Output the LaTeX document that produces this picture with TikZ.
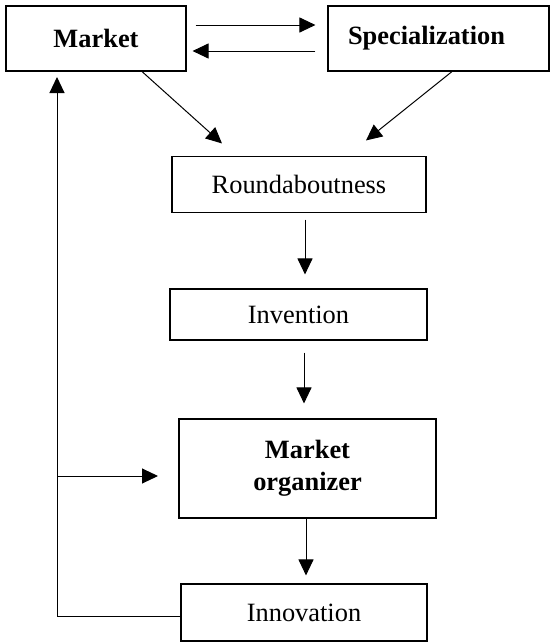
\documentclass[tikz,border=0pt]{standalone}
\usepackage{fontspec}
\setmainfont{Liberation Serif}
\usetikzlibrary{arrows.meta}
\begin{document}
\begin{tikzpicture}[x=1pt,y=-1pt,
  box/.style={draw=black, line width=1.1pt, rectangle, inner sep=0pt, align=center,
    font=\fontsize{26.4}{31.7}\selectfont},
  arr/.style={draw=black, line width=1pt, -{Triangle[length=16pt,width=15pt]}},
  plainline/.style={draw=black, line width=1pt}]
\useasboundingbox (0,0) rectangle (551,643);
\node[box, font=\fontsize{26.4}{31.7}\selectfont\bfseries, minimum width=180pt, minimum height=65pt] (market) at (96,38.5) {Market};
\node[box, font=\fontsize{26.4}{31.7}\selectfont\bfseries, minimum width=221pt, minimum height=65pt] (spec) at (438.5,38.5) {\hspace*{-24pt}Specialization};
\node[box, minimum width=254pt, minimum height=56pt] (round) at (299,184.5) {Roundaboutness};
\node[box, minimum width=257pt, minimum height=51pt] (inv) at (298.5,314.5) {Invention};
\node[box, font=\fontsize{26.4}{31.7}\selectfont\bfseries, minimum width=257pt, minimum height=99pt] (mo) at (307.5,468.5) {\raisebox{6pt}{\begin{tabular}{@{}c@{}}Market\\organizer\end{tabular}}};
\node[box, minimum width=246pt, minimum height=57pt] (innov) at (304,612.5) {Innovation};
\coordinate (fbtop) at (57,77);
\coordinate (fbbr) at (57,476);
\coordinate (fbcorner) at (57,616);
\coordinate (motip) at (158,476);
% top pair of arrows
\draw[arr, shorten <=9pt, shorten >=12pt] ([yshift=13.5pt]market.east) -- ([yshift=13.5pt]spec.west);
\draw[arr, shorten <=12pt, shorten >=6pt] ([yshift=-12.5pt]spec.west) -- ([yshift=-12.5pt]market.east);
% diagonals
\draw[arr] ([xshift=46pt]market.south) -- ([xshift=-77pt,yshift=12.5pt]round.north);
\draw[arr] ([xshift=13.5pt]spec.south) -- ([xshift=67pt,yshift=15.5pt]round.north);
% vertical chain
\draw[arr, shorten <=6.5pt, shorten >=14pt] ([xshift=6pt]round.south) -- ([xshift=6pt]round.south |- inv.north);
\draw[arr, shorten <=12pt, shorten >=15pt] ([xshift=5.5pt]inv.south) -- ([xshift=5.5pt]inv.south |- mo.north);
\draw[arr, shorten >=8pt] ([xshift=-1.5pt]mo.south) -- ([xshift=-1.5pt]mo.south |- innov.north);
% feedback loop
\draw[plainline] ([yshift=-3.5pt]innov.west) -- (fbcorner) -- (fbbr);
\draw[arr] (fbbr) -- (fbtop);
\draw[arr] (fbbr) -- (motip);
\end{tikzpicture}
\end{document}
